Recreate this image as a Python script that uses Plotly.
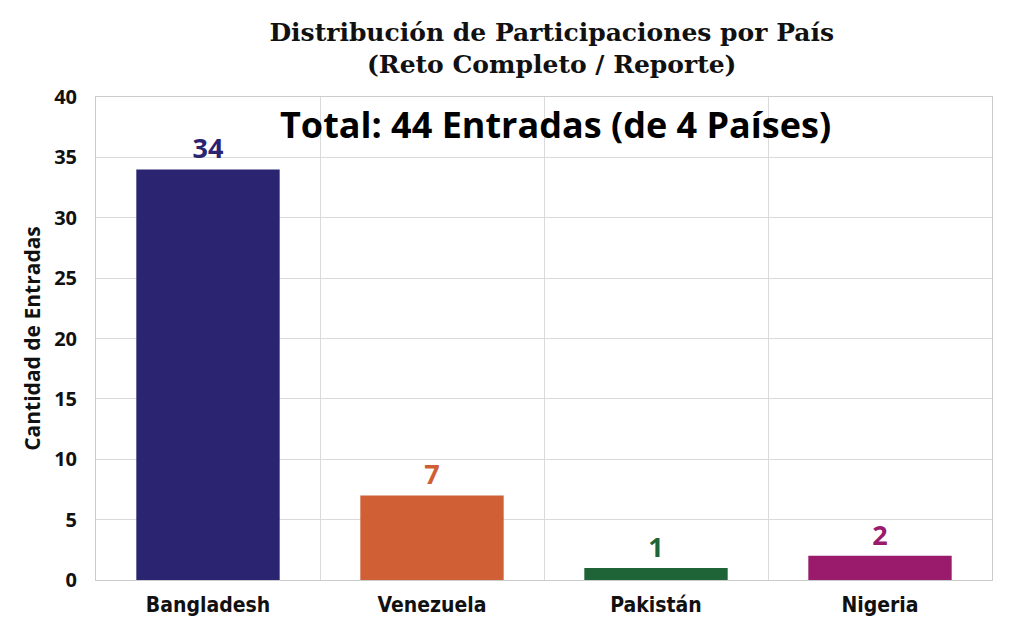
import plotly.graph_objects as go

countries = ["Bangladesh", "Venezuela", "Pakistán", "Nigeria"]
entries = [34, 7, 1, 2]
bar_colors = ["#2B2470", "#D05F35", "#1E6436", "#9A1A6B"]
y_ticks = [0, 5, 10, 15, 20, 25, 30, 35, 40]

total = sum(entries)

# the page body adds an 8px offset, so margins are trimmed to match
fig = go.Figure(
    go.Bar(
        x=countries,
        y=entries,
        marker_color=bar_colors,
        marker_line_width=0,
        width=0.64,
        text=[f"<b>{v}</b>" for v in entries],
        textposition="outside",
        textfont={"family": "Open Sans", "size": 27, "color": bar_colors},
        cliponaxis=False,
        showlegend=False,
    )
)

fig.add_annotation(
    text=f"<b>Total: {total} Entradas (de {len(countries)} Países)</b>",
    x=0.513,
    y=37.7,
    xref="paper",
    yref="y",
    showarrow=False,
    font={"family": "Open Sans", "size": 36, "color": "#000000"},
)

fig.update_layout(
    title={
        "text": "<b>Distribución de Participaciones por País<br>(Reto Completo / Reporte)</b>",
        "x": 0.531,
        "xanchor": "center",
        "y": 0.949,
        "yanchor": "top",
        "font": {"family": "DejaVu Serif", "size": 25, "color": "#111111"},
    },
    width=1024,
    height=640,
    margin={"l": 88, "r": 40, "t": 89, "b": 68},
    paper_bgcolor="white",
    plot_bgcolor="white",
    bargap=0.36,
)

fig.update_xaxes(
    tickson="boundaries",
    showgrid=True,
    gridcolor="#DADADA",
    gridwidth=1,
    showline=True,
    linecolor="#CCCCCC",
    mirror=True,
    ticks="",
    ticklabelstandoff=6,
    tickfont={"family": "DejaVu Sans Condensed", "size": 21, "color": "#111111", "weight": "bold"},
)

fig.update_yaxes(
    range=[0, 40],
    tickvals=y_ticks,
    showgrid=True,
    gridcolor="#DADADA",
    gridwidth=1,
    zeroline=False,
    showline=True,
    linecolor="#CCCCCC",
    mirror=True,
    ticks="",
    ticklabelstandoff=14,
    tickfont={"family": "Open Sans", "size": 20, "color": "#111111", "weight": "bold"},
    title={
        "text": "<b>Cantidad de Entradas</b>",
        "font": {"family": "Open Sans", "size": 21, "color": "#111111"},
        "standoff": 7,
    },
)

fig.write_html("out.html")
